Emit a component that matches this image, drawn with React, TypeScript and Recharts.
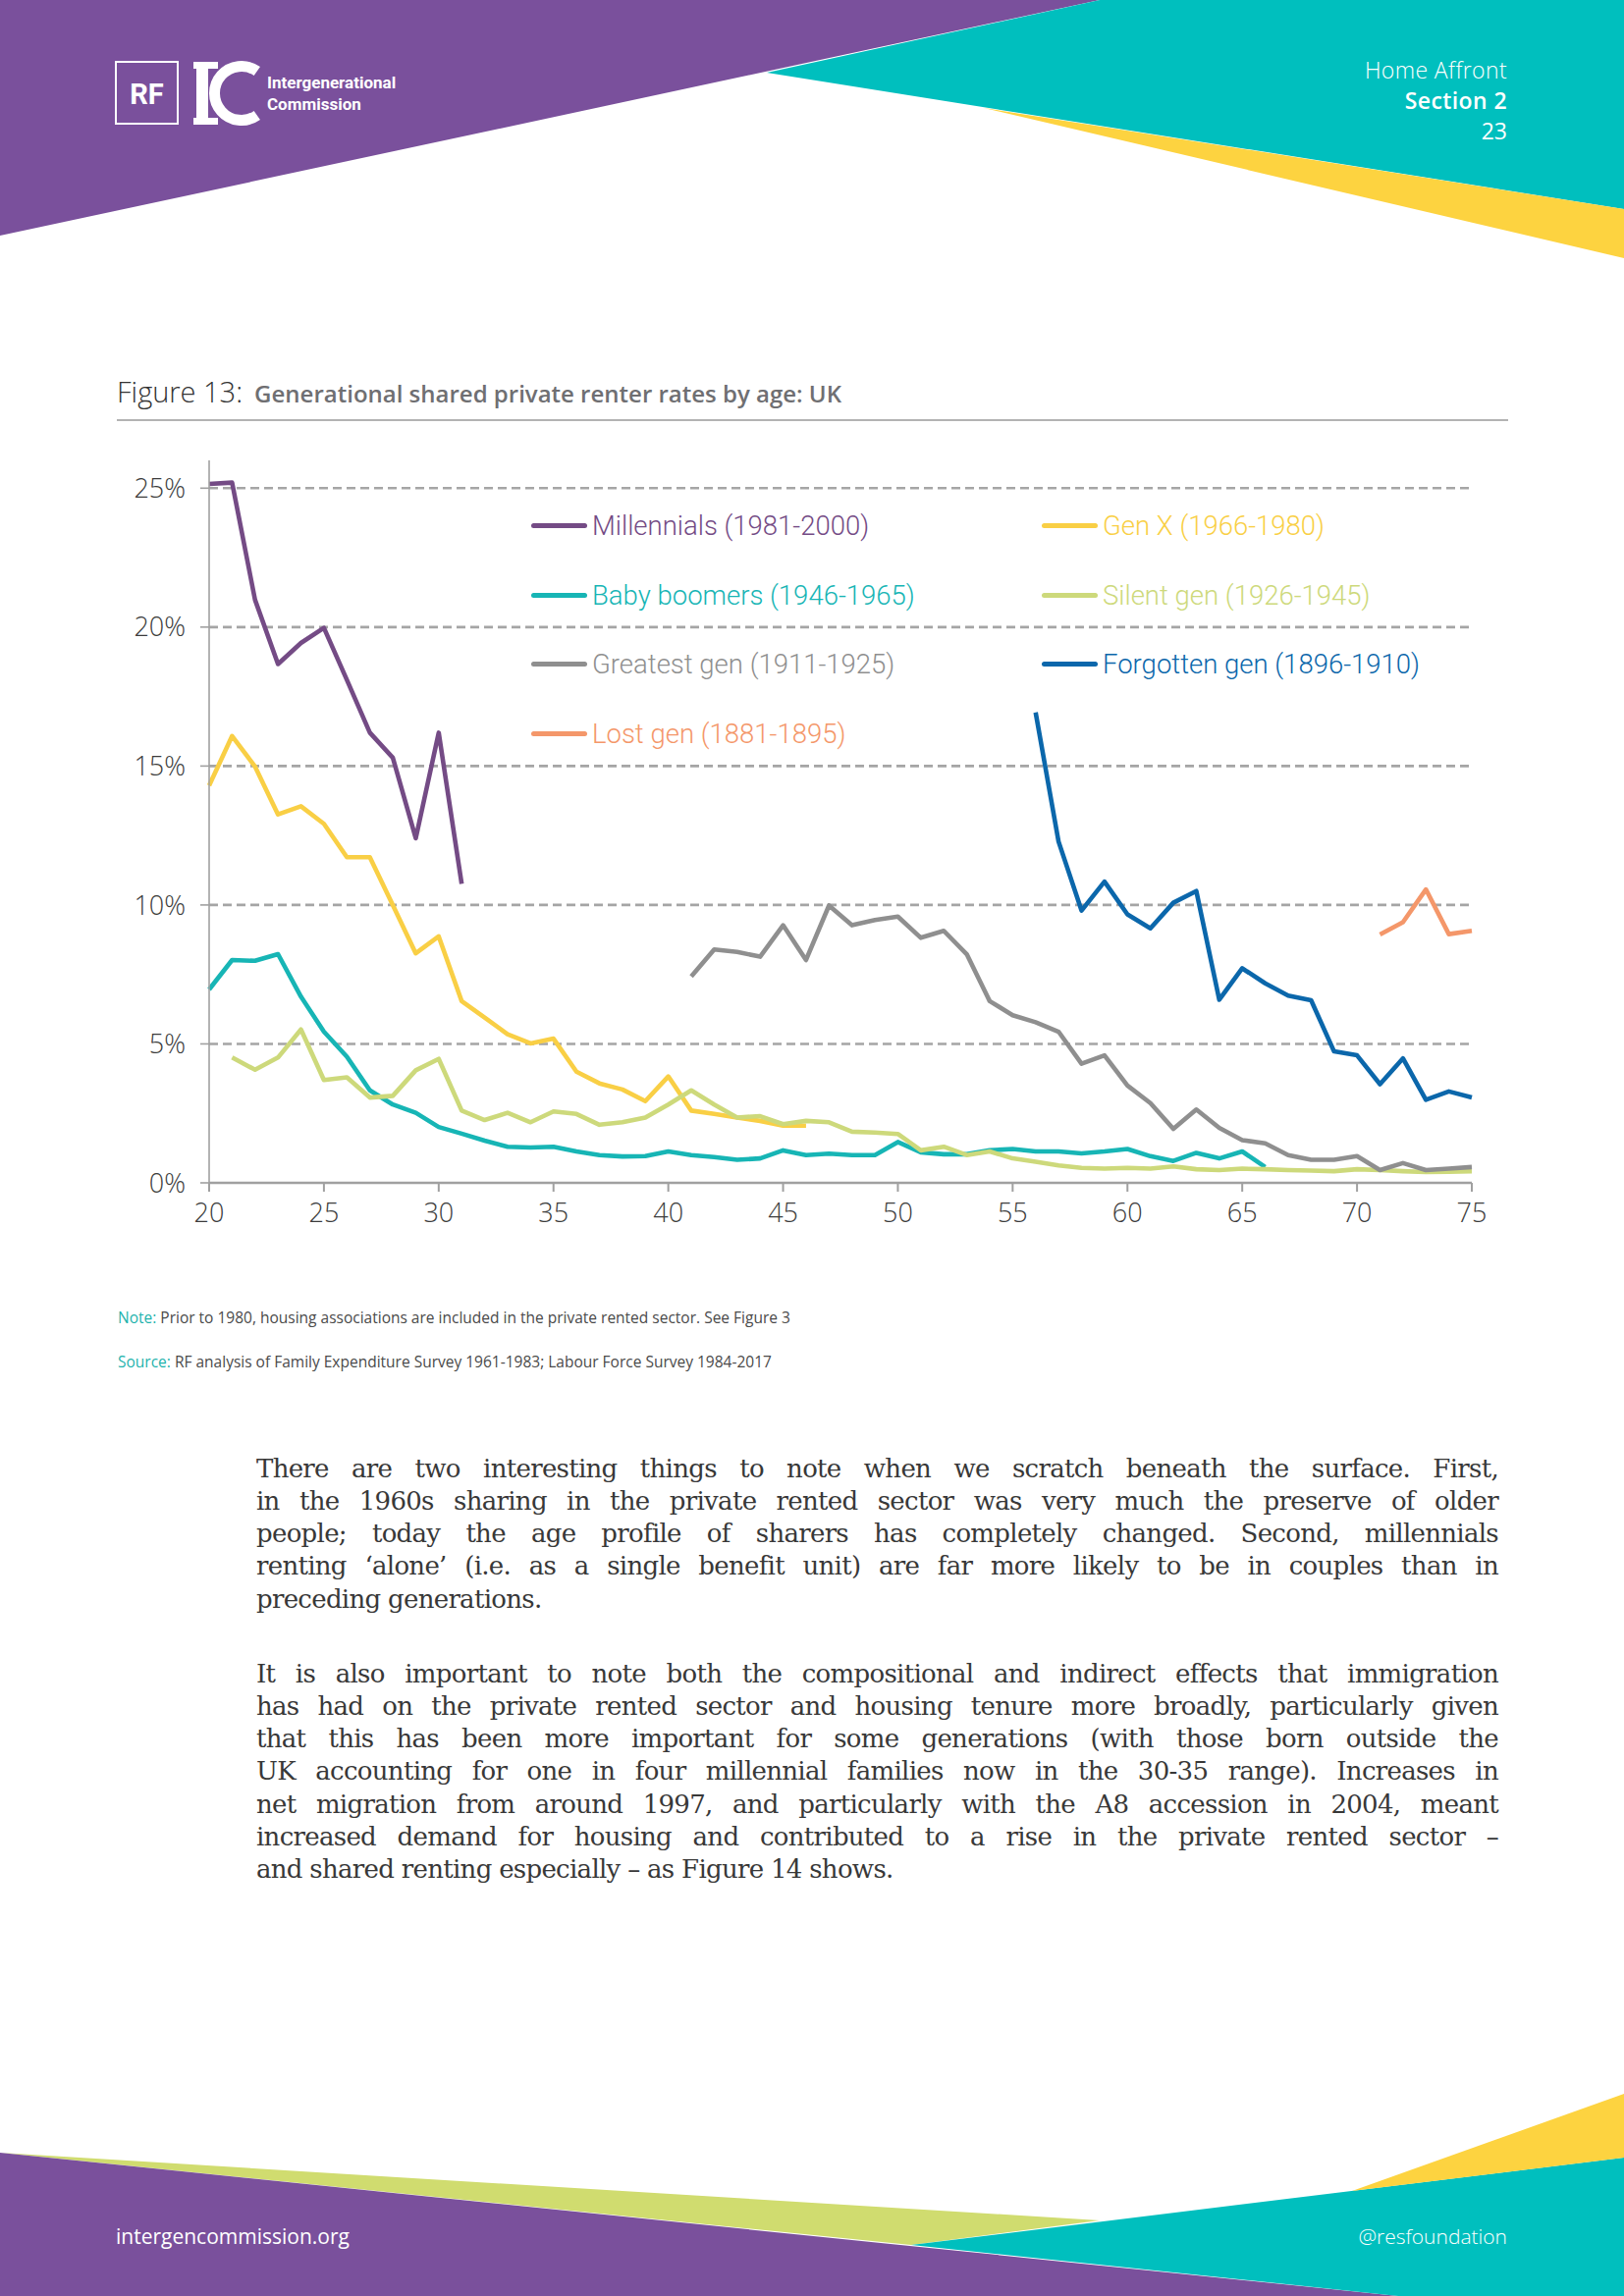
import React from 'react';
import { LineChart, Line, XAxis, YAxis, Legend, ReferenceLine } from 'recharts';

// ---------- data (percent) ----------
const xTicks = [20, 25, 30, 35, 40, 45, 50, 55, 60, 65, 70, 75];
const yTicks = [0, 5, 10, 15, 20, 25];
const gridValues = [5, 10, 15, 20, 25];

const millennialsStart = 20;
const millennials = [25.15, 25.2, 20.98, 18.67, 19.43, 19.97, 18.1, 16.2, 15.3, 12.4, 16.2, 10.76];

const genXStart = 20;
const genX = [14.3, 16.08, 14.98, 13.26, 13.55, 12.92, 11.72, 11.72, 10.0, 8.26, 8.87, 6.54, 5.95, 5.35, 5.02, 5.19,
  4.0, 3.58, 3.36, 2.94, 3.83, 2.6, 2.48, 2.35, 2.23, 2.06, 2.06];

const boomersStart = 20;
const boomers = [6.96, 8.02, 7.99, 8.23, 6.7, 5.44, 4.54, 3.33, 2.82, 2.52, 2.01, 1.77, 1.52, 1.3, 1.27, 1.3, 1.13,
  1.0, 0.95, 0.96, 1.13, 1.0, 0.93, 0.83, 0.88, 1.17, 1.0, 1.05, 1.0, 1.0, 1.47, 1.1, 1.03, 1.03, 1.17, 1.22, 1.13,
  1.13, 1.06, 1.13, 1.22, 0.96, 0.79, 1.08, 0.88, 1.13, 0.57];

const silentStart = 21;
const silent = [4.51, 4.07, 4.51, 5.52, 3.7, 3.8, 3.07, 3.13, 4.05, 4.46, 2.6, 2.26, 2.52, 2.18, 2.57, 2.48, 2.09,
  2.18, 2.35, 2.82, 3.33, 2.82, 2.35, 2.4, 2.11, 2.23, 2.18, 1.84, 1.81, 1.76, 1.17, 1.3, 1.0, 1.13, 0.88, 0.76, 0.63,
  0.54, 0.51, 0.54, 0.51, 0.59, 0.49, 0.46, 0.51, 0.49, 0.46, 0.44, 0.42, 0.49, 0.46, 0.42, 0.39, 0.4, 0.42];

const greatestStart = 41;
const greatest = [7.43, 8.4, 8.31, 8.14, 9.27, 8.02, 9.98, 9.27, 9.46, 9.58, 8.82, 9.07, 8.23, 6.54, 6.03, 5.78, 5.44,
  4.29, 4.59, 3.5, 2.87, 1.94, 2.64, 1.98, 1.54, 1.42, 1.0, 0.83, 0.83, 0.96, 0.46, 0.71, 0.46, 0.51, 0.57];

const forgottenStart = 56;
const forgotten = [16.93, 12.28, 9.8, 10.84, 9.66, 9.16, 10.08, 10.5, 6.59, 7.72, 7.18, 6.74, 6.57, 4.73, 4.59, 3.55,
  4.48, 2.99, 3.29, 3.07];

const lostStart = 71;
const lost = [8.94, 9.38, 10.56, 8.95, 9.07];

const SERIES = [
  { key: 'millennials', name: 'Millennials (1981-2000)', color: '#744b85', start: millennialsStart, values: millennials },
  { key: 'genX', name: 'Gen X (1966-1980)', color: '#f9cf45', start: genXStart, values: genX },
  { key: 'boomers', name: 'Baby boomers (1946-1965)', color: '#17b5b5', start: boomersStart, values: boomers },
  { key: 'silent', name: 'Silent gen (1926-1945)', color: '#cdd97b', start: silentStart, values: silent },
  { key: 'greatest', name: 'Greatest gen (1911-1925)', color: '#8f8f8f', start: greatestStart, values: greatest },
  { key: 'forgotten', name: 'Forgotten gen (1896-1910)', color: '#0b67ab', start: forgottenStart, values: forgotten },
  { key: 'lost', name: 'Lost gen (1881-1895)', color: '#f4976a', start: lostStart, values: lost },
];

const ages: number[] = [];
for (let a = 20; a <= 75; a++) ages.push(a);

const data = ages.map((age) => {
  const row: Record<string, number | null> = { age };
  SERIES.forEach((s) => {
    const i = age - s.start;
    row[s.key] = i >= 0 && i < s.values.length ? s.values[i] : null;
  });
  return row;
});

const renderLegend = () => (
  <div
    style={{
      display: 'grid',
      gridTemplateColumns: '520px 520px',
      gridAutoRows: '70.7px',
      fontFamily: 'Roboto, sans-serif',
      fontWeight: 300,
      fontSize: 27.5,
    }}
  >
    {SERIES.map((s) => (
      <div key={s.key} style={{ display: 'flex', alignItems: 'center' }}>
        <span
          style={{ display: 'inline-block', width: 57, height: 5, background: s.color, borderRadius: 2.5, marginRight: 5 }}
        />
        <span style={{ color: s.color, whiteSpace: 'nowrap' }}>{s.name}</span>
      </div>
    ))}
  </div>
);

const para1 = [
  'There are two interesting things to note when we scratch beneath the surface. First,',
  'in the 1960s sharing in the private rented sector was very much the preserve of older',
  'people; today the age profile of sharers has completely changed. Second, millennials',
  'renting \u2018alone\u2019 (i.e. as a single benefit unit) are far more likely to be in couples than in',
  'preceding generations.',
];
const para2 = [
  'It is also important to note both the compositional and indirect effects that immigration',
  'has had on the private rented sector and housing tenure more broadly, particularly given',
  'that this has been more important for some generations (with those born outside the',
  'UK accounting for one in four millennial families now in the 30-35 range). Increases in',
  'net migration from around 1997, and particularly with the A8 accession in 2004, meant',
  'increased demand for housing and contributed to a rise in the private rented sector  \u2013',
  'and shared renting especially \u2013 as Figure 14 shows.',
];

const BodyLines = ({ lines, top }: { lines: string[]; top: number }) => (
  <>
    {lines.map((l, i) => (
      <div
        key={i}
        style={{
          position: 'absolute',
          left: 261,
          top: top + i * 33.3 - 16.5,
          width: 1265,
          height: 33,
          lineHeight: '33px',
          fontFamily: '"DejaVu Serif", serif',
          fontSize: 26,
          letterSpacing: -0.7,
          color: '#383838',
          whiteSpace: 'nowrap',
          textAlign: i === lines.length - 1 ? 'left' : 'justify',
          textAlignLast: i === lines.length - 1 ? 'left' : 'justify',
        }}
      >
        {l}
      </div>
    ))}
  </>
);

export default function App() {
  return (
    <div
      style={{
        position: 'absolute',
        left: 0,
        top: 0,
        width: 1654,
        height: 2339,
        background: '#ffffff',
        overflow: 'hidden',
        fontFamily: '"Open Sans", sans-serif',
      }}
    >
      <svg width={1654} height={2339} style={{ position: 'absolute', left: 0, top: 0 }}>
        {/* header shapes */}
        <polygon points="0,0 1120,0 0,240" fill="#7a509c" />
        <polygon points="1120,0 1654,0 1654,213 781,74" fill="#00bfbe" />
        <polygon points="1002,110 1654,213 1654,263" fill="#fdd340" />
        {/* logo */}
        <rect x={118} y={63} width={63} height={63} fill="none" stroke="#fff" strokeWidth={2} />
        <text x={149.5} y={106} textAnchor="middle" fill="#fff" fontFamily="Roboto, sans-serif" fontWeight={700} fontSize={29}>
          RF
        </text>
        <rect x={200} y={63} width={12} height={64} fill="#fff" />
        <rect x={197} y={63} width={25} height={7} fill="#fff" />
        <rect x={197} y={120} width={25} height={7} fill="#fff" />
        <path d="M 261.8 72.5 A 27.5 27.5 0 1 0 261.8 117.5" fill="none" stroke="#fff" strokeWidth={11} />
        <text x={272} y={90} fill="#fff" fontFamily="Roboto, sans-serif" fontWeight={700} fontSize={17}>
          Intergenerational
        </text>
        <text x={272} y={112} fill="#fff" fontFamily="Roboto, sans-serif" fontWeight={700} fontSize={17}>
          Commission
        </text>
        <text x={1535} y={80} textAnchor="end" fill="#fff" fontFamily="Open Sans, sans-serif" fontWeight={300} fontSize={23} letterSpacing={0.4}>
          Home Affront
        </text>
        <text x={1535} y={111} textAnchor="end" fill="#fff" fontFamily="Open Sans, sans-serif" fontWeight={600} fontSize={23} letterSpacing={0.4}>
          Section 2
        </text>
        <text x={1535} y={142} textAnchor="end" fill="#fff" fontFamily="Open Sans, sans-serif" fontWeight={400} fontSize={23}>
          23
        </text>
        {/* footer shapes */}
        <polygon points="0,2193 1120,2262 928,2287" fill="#d0dc6f" />
        <polygon points="0,2193 1424,2339 0,2339" fill="#7a509c" />
        <polygon points="928,2287 1654,2198 1654,2339 1424,2339" fill="#00bfbe" />
        <polygon points="1377,2232 1654,2133 1654,2198" fill="#fdd340" />
        <text x={118} y={2286} fill="#fff" fontFamily="Open Sans, sans-serif" fontWeight={400} fontSize={21}>
          intergencommission.org
        </text>
        <text x={1535} y={2286} textAnchor="end" fill="#fff" fontFamily="Open Sans, sans-serif" fontWeight={300} fontSize={21}>
          @resfoundation
        </text>
        {/* title underline */}
        <line x1={119} y1={428} x2={1536} y2={428} stroke="#9a9a9a" strokeWidth={1.6} />
      </svg>

      {/* Title */}
      <div style={{ position: 'absolute', left: 119, top: 378, whiteSpace: 'nowrap', lineHeight: '42px' }}>
        <span style={{ fontFamily: '"Open Sans", sans-serif', fontWeight: 300, fontSize: 29, color: '#333' }}>Figure 13:</span>
        <span style={{ fontFamily: '"Open Sans", sans-serif', fontWeight: 600, fontSize: 24, color: '#6f6f72', marginLeft: 12 }}>
          Generational shared private renter rates by age: UK
        </span>
      </div>

      {/* Chart */}
      <div style={{ position: 'absolute', left: 0, top: 440 }}>
        <LineChart width={1600} height={840} data={data} margin={{ top: 29, right: 101, bottom: 15, left: 113 }}>
          <XAxis
            dataKey="age"
            type="number"
            domain={[20, 75]}
            ticks={xTicks}
            interval={0}
            height={60}
            tickSize={9}
            tickMargin={12}
            axisLine={{ stroke: '#a0a0a0', strokeWidth: 2.5 }}
            tickLine={{ stroke: '#a0a0a0', strokeWidth: 2 }}
            tick={{ fontFamily: 'Open Sans, sans-serif', fontWeight: 300, fontSize: 27, fill: '#3c3c3c' }}
          />
          <YAxis
            type="number"
            domain={[0, 26]}
            ticks={yTicks}
            interval={0}
            width={100}
            tickSize={9}
            tickMargin={15}
            tickFormatter={(v: number) => `${v}%`}
            axisLine={{ stroke: '#a0a0a0', strokeWidth: 1.6 }}
            tickLine={{ stroke: '#a0a0a0', strokeWidth: 1.6 }}
            tick={{ fontFamily: 'Open Sans, sans-serif', fontWeight: 300, fontSize: 27, fill: '#3c3c3c' }}
          />
          {gridValues.map((v) => (
            <ReferenceLine key={v} y={v} stroke="#a5a5a5" strokeWidth={2.6} strokeDasharray="9 5" ifOverflow="extendDomain" />
          ))}
          <Legend
            layout="horizontal"
            verticalAlign="middle"
            align="center"
            content={renderLegend}
            wrapperStyle={{ position: 'absolute', left: 541, top: 60, width: 1050, height: 290 }}
          />
          {SERIES.map((s) => (
            <Line
              key={s.key}
              dataKey={s.key}
              name={s.name}
              type="linear"
              stroke={s.color}
              strokeWidth={4.6}
              strokeLinejoin="round"
              dot={false}
              activeDot={false}
              connectNulls={false}
              isAnimationActive={false}
            />
          ))}
        </LineChart>
      </div>

      {/* Note & source */}
      <div style={{ position: 'absolute', left: 120, top: 1331, fontSize: 15.5, lineHeight: '22px', color: '#4a4a4a', whiteSpace: 'nowrap' }}>
        <span style={{ color: '#1fb3ad' }}>Note:</span> Prior to 1980, housing associations are included in the private rented sector. See Figure 3
      </div>
      <div style={{ position: 'absolute', left: 120, top: 1376, fontSize: 15.5, lineHeight: '22px', color: '#4a4a4a', whiteSpace: 'nowrap' }}>
        <span style={{ color: '#1fb3ad' }}>Source:</span> RF analysis of Family Expenditure Survey 1961-1983; Labour Force Survey 1984-2017
      </div>

      <BodyLines lines={para1} top={1496} />
      <BodyLines lines={para2} top={1705} />
    </div>
  );
}
